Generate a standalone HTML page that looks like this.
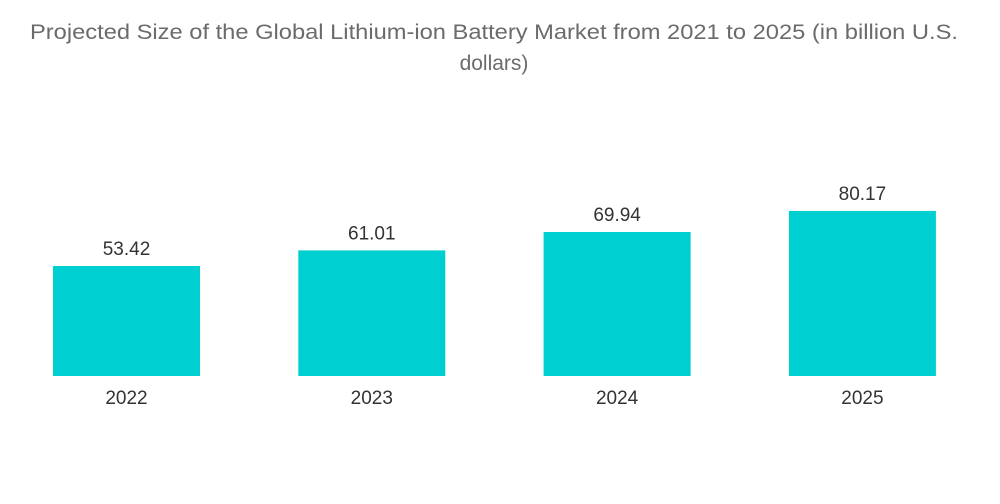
<!DOCTYPE html>
<html><head><meta charset="utf-8"><style>
html,body{margin:0;padding:0;background:#fff;width:1000px;height:504px;overflow:hidden}
svg text{font-family:"Liberation Sans",sans-serif}
</style></head><body>
<svg id="chart" width="1000" height="504">
<text x="30" y="39" textLength="928" lengthAdjust="spacingAndGlyphs" font-size="21" fill="#6b6b6b">Projected Size of the Global Lithium-ion Battery Market from 2021 to 2025 (in billion U.S.</text>
<text x="494" y="70" text-anchor="middle" font-size="21" fill="#6b6b6b">dollars)</text>
<g id="bars"></g>
</svg>
<script>
const categories = ["2022","2023","2024","2025"];
const values = [53.42,61.01,69.94,80.17];
const valueLabels = ["53.42","61.01","69.94","80.17"];
const baseY = 376, pxPerUnit = 2.059, firstX = 53, step = 245.3, barW = 147;
const y = v => baseY - v * pxPerUnit;
const x = i => firstX + i * step;
const g = document.getElementById('bars');
const ns = "http://www.w3.org/2000/svg";
values.forEach((v,i)=>{
  const r = document.createElementNS(ns,'rect');
  r.setAttribute('x', x(i)); r.setAttribute('y', y(v));
  r.setAttribute('width', barW); r.setAttribute('height', baseY - y(v));
  r.setAttribute('fill', '#00cfd2');
  
  
  g.appendChild(r);
  const t = document.createElementNS(ns,'text');
  t.setAttribute('x', x(i) + barW/2); t.setAttribute('y', y(v) - 11);
  t.setAttribute('text-anchor','middle'); t.setAttribute('font-size','19'); t.setAttribute('fill','#333');
  t.textContent = valueLabels[i];
  
  
  g.appendChild(t);
  const c = document.createElementNS(ns,'text');
  c.setAttribute('x', x(i) + barW/2); c.setAttribute('y', 404);
  c.setAttribute('text-anchor','middle'); c.setAttribute('font-size','19'); c.setAttribute('fill','#333');
  c.textContent = categories[i];
  
  
  g.appendChild(c);
});
</script>
</body></html>
